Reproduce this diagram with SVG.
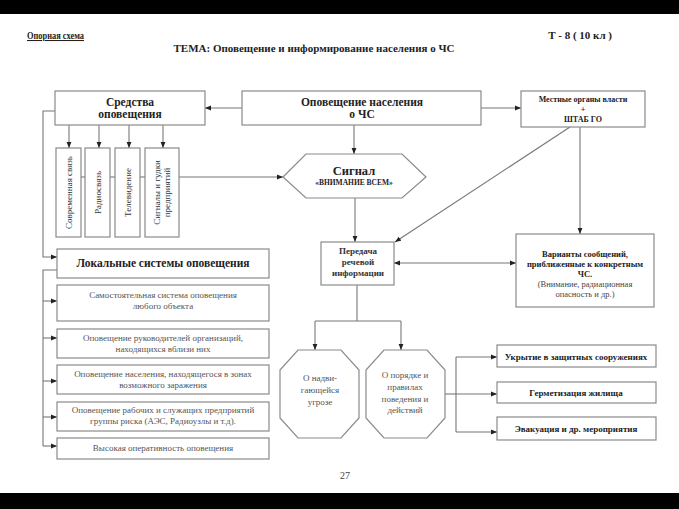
<svg xmlns="http://www.w3.org/2000/svg" width="679" height="509" viewBox="0 0 679 509">
<defs>
<marker id="ah" viewBox="0 0 10 10" refX="10" refY="5" markerWidth="6" markerHeight="6" orient="auto-start-reverse" markerUnits="userSpaceOnUse">
<path d="M0,1 L10,5 L0,9 z" fill="#222"/>
</marker>
<style>
.b{fill:#fff;stroke:#8a8a8a;stroke-width:1.2}
.c{fill:none;stroke:#777;stroke-width:1.1}
.a{marker-end:url(#ah)}
text{font-family:"Liberation Serif","DejaVu Serif",serif;fill:#222;text-anchor:middle}
.bd{font-weight:bold}
.s{font-size:9px;fill:#555}
</style>
</defs>
<rect x="0" y="0" width="679" height="509" fill="#fff"/>
<rect x="0" y="0" width="679" height="14" fill="#000"/>
<rect x="0" y="493" width="679" height="16" fill="#000"/>

<g id="header">
<text x="27" y="39" style="font-size:10.5px;text-anchor:start;text-decoration:underline;font-weight:600" textLength="57" lengthAdjust="spacingAndGlyphs">Опорная схема</text>
<text x="612" y="39" style="font-size:11px;text-anchor:end;font-weight:600">Т - 8 ( 10 кл )</text>
<text x="314" y="52" style="font-size:11px;font-weight:600">ТЕМА: Оповещение и информирование населения о ЧС</text>
</g>

<g id="connectors">
<line class="c a" x1="242" y1="108" x2="205" y2="108"/>
<line class="c a" x1="481" y1="108" x2="521" y2="108"/>
<line class="c a" x1="354" y1="125" x2="354" y2="154"/>
<line class="c a" x1="69" y1="125" x2="69" y2="148"/>
<line class="c a" x1="99" y1="125" x2="99" y2="148"/>
<line class="c a" x1="129" y1="125" x2="129" y2="148"/>
<line class="c a" x1="163" y1="125" x2="163" y2="148"/>
<line class="c" x1="81" y1="177" x2="85" y2="177"/>
<line class="c" x1="110" y1="177" x2="115" y2="177"/>
<line class="c" x1="140" y1="177" x2="145" y2="177"/>
<line class="c a" x1="179" y1="177" x2="283" y2="177"/>
<polyline class="c a" points="55,111 43,111 43,257 57,257"/>
<polyline class="c" points="57,270 43,270 43,446"/>
<line class="c a" x1="43" y1="301" x2="57" y2="301"/>
<line class="c a" x1="43" y1="338" x2="57" y2="338"/>
<line class="c a" x1="43" y1="381" x2="57" y2="381"/>
<line class="c a" x1="43" y1="417" x2="57" y2="417"/>
<line class="c a" x1="43" y1="446" x2="57" y2="446"/>
<line class="c a" x1="355" y1="198" x2="355" y2="242"/>
<line class="c a" x1="570" y1="127" x2="395" y2="242"/>
<line class="c a" x1="580" y1="127" x2="580" y2="234"/>
<line class="c a" style="marker-start:url(#ah)" x1="394" y1="263" x2="516" y2="263"/>
<polyline class="c" points="357,285 357,321"/>
<polyline class="c a" points="315,321 315,350"/>
<polyline class="c a" points="401,321 401,350"/>
<line class="c" x1="315" y1="321" x2="401" y2="321"/>
<line class="c" x1="445" y1="394" x2="456" y2="394"/>
<line class="c" x1="456" y1="357" x2="456" y2="432"/>
<line class="c a" x1="456" y1="357" x2="497" y2="357"/>
<line class="c a" x1="456" y1="394" x2="497" y2="394"/>
<line class="c a" x1="456" y1="432" x2="497" y2="432"/>
</g>

<g id="sredstva">
<rect class="b" x="55" y="91" width="150" height="34"/>
<text x="130" y="106" class="bd" style="font-size:11.5px">Средства</text>
<text x="130" y="118" class="bd" style="font-size:11.5px">оповещения</text>
</g>
<g id="opoveshchenie">
<rect class="b" x="242" y="91" width="239" height="34"/>
<text x="362" y="106" class="bd" style="font-size:11.5px">Оповещение населения</text>
<text x="362" y="118" class="bd" style="font-size:11.5px">о ЧС</text>
</g>
<g id="mestnye">
<rect class="b" x="521" y="91" width="124" height="36"/>
<text x="583" y="102" class="bd" style="font-size:8px">Местные органы власти</text>
<text x="583" y="112" class="bd" style="font-size:8px">+</text>
<text x="583" y="122" class="bd" style="font-size:8px">ШТАБ ГО</text>
</g>

<g id="sovr">
<rect class="b" x="56" y="148" width="25" height="89"/>
<text transform="translate(71.5,192.5) rotate(-90)" class="s" style="fill:#333">Современная связь</text>
</g>
<g id="radio">
<rect class="b" x="85" y="148" width="25" height="89"/>
<text transform="translate(100.5,192.5) rotate(-90)" class="s" style="fill:#333">Радиосвязь</text>
</g>
<g id="tv">
<rect class="b" x="115" y="148" width="25" height="89"/>
<text transform="translate(130.5,192.5) rotate(-90)" class="s" style="fill:#333">Телевидение</text>
</g>
<g id="signaly">
<rect class="b" x="145" y="148" width="34" height="89"/>
<text transform="translate(159.5,192.5) rotate(-90)" class="s" style="fill:#333">Сигналы и гудки</text>
<text transform="translate(169.5,192.5) rotate(-90)" class="s" style="fill:#333">предприятий</text>
</g>

<g id="signal">
<polygon class="b" points="283,177 306,154 402,154 426,177 402,198 306,198"/>
<text x="354" y="175" class="bd" style="font-size:12.5px">Сигнал</text>
<text x="354" y="185" class="bd" style="font-size:7.5px">«ВНИМАНИЕ ВСЕМ»</text>
</g>

<g id="lokalnye">
<rect class="b" x="57" y="249" width="212" height="29"/>
<text x="163" y="267" class="bd" style="font-size:11.5px">Локальные системы оповещения</text>
</g>
<g id="l1">
<rect class="b" x="57" y="285" width="212" height="36"/>
<text x="163" y="298" class="s">Самостоятельная система оповещения</text>
<text x="163" y="309" class="s">любого объекта</text>
</g>
<g id="l2">
<rect class="b" x="57" y="329" width="212" height="29"/>
<text x="163" y="341" class="s">Оповещение руководителей организаций,</text>
<text x="163" y="352" class="s">находящихся вблизи них</text>
</g>
<g id="l3">
<rect class="b" x="57" y="365" width="212" height="29"/>
<text x="163" y="377" class="s">Оповещение населения, находящегося в зонах</text>
<text x="163" y="388" class="s">возможного заражения</text>
</g>
<g id="l4">
<rect class="b" x="57" y="402" width="212" height="29"/>
<text x="163" y="413" class="s">Оповещение рабочих и служащих предприятий</text>
<text x="163" y="424" class="s">группы риска (АЭС, Радиоузлы и т.д).</text>
</g>
<g id="l5">
<rect class="b" x="57" y="438" width="212" height="21"/>
<text x="163" y="451" class="s">Высокая оперативность оповещения</text>
</g>

<g id="peredacha">
<rect class="b" x="321" y="242" width="73" height="43"/>
<text x="358" y="254" style="font-size:9px;font-weight:bold;fill:#333">Передача</text>
<text x="358" y="265" style="font-size:9px;font-weight:bold;fill:#333">речевой</text>
<text x="358" y="276" style="font-size:9px;font-weight:bold;fill:#333">информации</text>
</g>
<g id="varianty">
<rect class="b" x="516" y="234" width="138" height="73"/>
<text x="585" y="257" class="bd" style="font-size:8.5px">Варианты сообщений,</text>
<text x="585" y="267" class="bd" style="font-size:8.5px">приближенные к конкретным</text>
<text x="585" y="277" class="bd" style="font-size:8.5px">ЧС.</text>
<text x="585" y="287" style="font-size:8.5px;fill:#444">(Внимание, радиационная</text>
<text x="585" y="297" style="font-size:8.5px;fill:#444">опасность и др.)</text>
</g>

<g id="ugroza">
<polygon class="b" points="298,350 341,350 359,370 359,418 341,438 298,438 280,418 280,370"/>
<text x="320" y="381" class="s">О надви-</text>
<text x="320" y="393" class="s">гающейся</text>
<text x="320" y="405" class="s">угрозе</text>
</g>
<g id="poryadok">
<polygon class="b" points="384,350 427,350 445,370 445,418 427,438 384,438 366,418 366,370"/>
<text x="405" y="378" class="s">О порядке и</text>
<text x="405" y="390" class="s">правилах</text>
<text x="405" y="402" class="s">поведения и</text>
<text x="405" y="413" class="s">действий</text>
</g>

<g id="ukrytie">
<rect class="b" x="497" y="345" width="159" height="22"/>
<text x="576" y="360" class="bd" style="font-size:9px">Укрытие в защитных сооружениях</text>
</g>
<g id="germ">
<rect class="b" x="497" y="382" width="159" height="21"/>
<text x="576" y="396" class="bd" style="font-size:9px">Герметизация жилища</text>
</g>
<g id="evak">
<rect class="b" x="497" y="417" width="159" height="23"/>
<text x="576" y="432" class="bd" style="font-size:9px">Эвакуация и др. мероприятия</text>
</g>

<text x="345" y="479" style="font-size:10px;fill:#444">27</text>
</svg>
